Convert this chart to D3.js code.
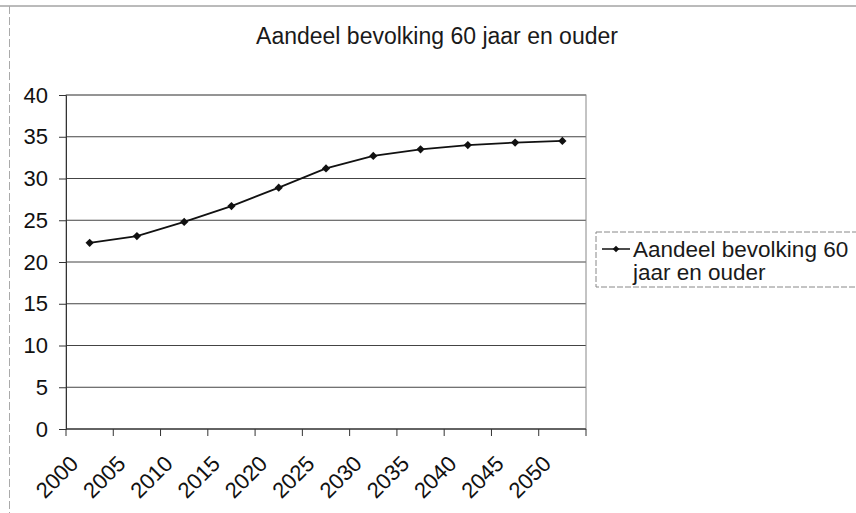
<!DOCTYPE html>
<html>
<head>
<meta charset="utf-8">
<script src="https://d3js.org/d3.v7.min.js"></script>
<style>
  body { margin: 0; background: #fff; }
  svg { font-family: "Liberation Sans", Arial, sans-serif; }
</style>
</head>
<body>
<svg id="chart" width="856" height="513"></svg>
<script>
// data
var years = ["2000","2005","2010","2015","2020","2025","2030","2035","2040","2045","2050"];
var share = [22.3, 23.1, 24.8, 26.7, 28.9, 31.2, 32.7, 33.5, 34.0, 34.3, 34.5];
var yTicks = [0, 5, 10, 15, 20, 25, 30, 35, 40];
var seriesName = "Aandeel bevolking 60 jaar en ouder";
var legendLines = ["Aandeel bevolking 60", "jaar en ouder"];

var svg = d3.select("#chart");
var plotL = 66, plotR = 586, plotT = 95, plotB = 429;

// outer chart frame (scanned, faint)
svg.append("line").attr("x1", 0).attr("x2", 856).attr("y1", 6).attr("y2", 6)
  .attr("stroke", "#777").attr("stroke-width", 1);
svg.append("line").attr("x1", 9.5).attr("x2", 9.5).attr("y1", 6).attr("y2", 513)
  .attr("stroke", "#aaa").attr("stroke-width", 1).attr("stroke-dasharray", "8,3");

// title
svg.append("text")
  .attr("x", 437).attr("y", 44)
  .attr("text-anchor", "middle")
  .attr("font-size", 23).attr("fill", "#1a1a1a")
  .text(seriesName);

var x = d3.scaleBand().domain(years).range([plotL, plotR]).padding(0);
var y = d3.scaleLinear().domain([0, 40]).range([plotB, plotT]);

// gridlines
svg.append("g").selectAll("line").data(yTicks).enter().append("line")
  .attr("x1", plotL).attr("x2", plotR)
  .attr("y1", d => y(d)).attr("y2", d => y(d))
  .attr("stroke", "#444").attr("stroke-width", 1);

// plot area border
svg.append("rect")
  .attr("x", plotL).attr("y", plotT).attr("width", plotR - plotL).attr("height", plotB - plotT)
  .attr("fill", "none").attr("stroke", "#888").attr("stroke-width", 1);

// y axis
var yAxis = svg.append("g")
  .attr("transform", "translate(" + plotL + ",0)")
  .call(d3.axisLeft(y).tickValues(yTicks).tickSize(7).tickPadding(11));
yAxis.select(".domain").attr("stroke", "#333");
yAxis.selectAll(".tick line").attr("stroke", "#333");
yAxis.selectAll("text").attr("font-size", 22).attr("fill", "#111")
  .attr("font-family", "Liberation Sans, Arial, sans-serif");

// x axis: ticks at category edges
var edges = years.map(d => x(d)).concat([plotR]);
svg.append("line").attr("x1", plotL).attr("x2", plotR).attr("y1", plotB).attr("y2", plotB)
  .attr("stroke", "#333");
svg.append("g").selectAll("line").data(edges).enter().append("line")
  .attr("x1", d => d).attr("x2", d => d)
  .attr("y1", plotB).attr("y2", plotB + 7)
  .attr("stroke", "#333");

svg.append("g").selectAll("text").data(years).enter().append("text")
  .attr("transform", d => "translate(" + (x(d) + x.bandwidth() / 2 - 10) + "," + (plotB + 36) + ") rotate(-45)")
  .attr("text-anchor", "end")
  .attr("font-size", 22).attr("fill", "#111")
  .text(d => d);

// series line
var pts = years.map((d, i) => [x(d) + x.bandwidth() / 2, y(share[i])]);
svg.append("path")
  .attr("d", d3.line()(pts))
  .attr("fill", "none").attr("stroke", "#111").attr("stroke-width", 1.8);

// diamond markers (squares turned 45 degrees)
var diamond = d3.symbol().type(d3.symbolSquare).size(34);
svg.append("g").selectAll("path").data(years).enter().append("path")
  .attr("d", diamond)
  .attr("transform", (d, i) => "translate(" + (x(d) + x.bandwidth() / 2) + "," + y(share[i]) + ") rotate(45)")
  .attr("fill", "#111");

// legend
var lg = svg.append("g");
lg.append("rect")
  .attr("x", 596).attr("y", 232).attr("width", 270).attr("height", 55)
  .attr("fill", "#fff").attr("stroke", "#888").attr("stroke-width", 1)
  .attr("stroke-dasharray", "6,2");
lg.append("line").attr("x1", 602).attr("x2", 630).attr("y1", 249).attr("y2", 249)
  .attr("stroke", "#111").attr("stroke-width", 1.5);
lg.append("path").attr("d", d3.symbol().type(d3.symbolSquare).size(22))
  .attr("transform", "translate(616,249) rotate(45)").attr("fill", "#111");
lg.selectAll("text.lt").data(legendLines).enter().append("text")
  .attr("class", "lt")
  .attr("x", 633).attr("y", (d, i) => 257 + i * 23)
  .attr("font-size", 22.5).attr("fill", "#1a1a1a").text(d => d);
</script>
</body>
</html>
